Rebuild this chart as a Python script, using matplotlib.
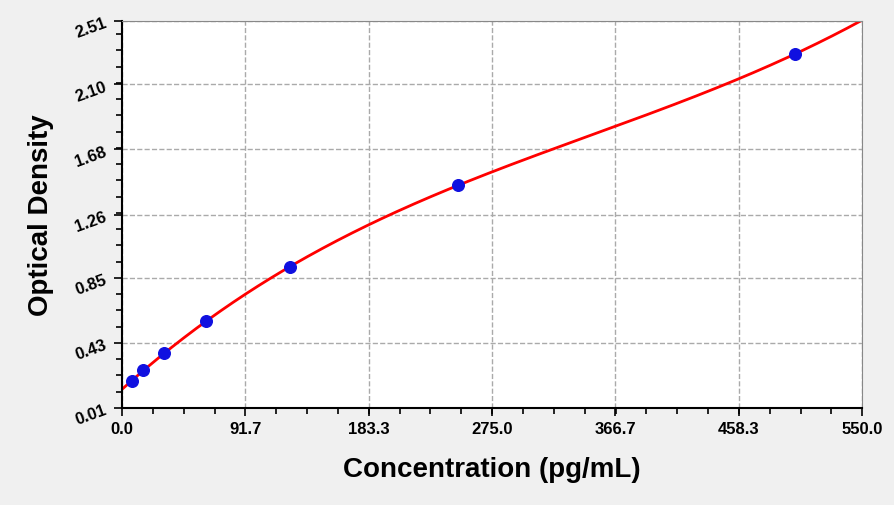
import numpy as np
import matplotlib
matplotlib.use("Agg")
import matplotlib.pyplot as plt
from matplotlib.ticker import AutoMinorLocator

plt.rcParams['font.family'] = ['Liberation Sans', 'DejaVu Sans']

conc = [7.8, 15.6, 31.25, 62.5, 125, 250, 500]
od = [0.184, 0.255, 0.365, 0.572, 0.921, 1.45, 2.296]
xticks = [0.0, 91.7, 183.3, 275.0, 366.7, 458.3, 550.0]
yticks = [0.01, 0.43, 0.85, 1.26, 1.68, 2.10, 2.51]

fig = plt.figure(figsize=(8.95, 5.06), dpi=100, facecolor="#f0f0f0")
ax = fig.add_axes([122/895, 1-409/506, 740/895, 387/506])
ax.set_facecolor("white")

coef = np.polyfit(conc, od, 3)
xs = np.linspace(0, 550, 300)
ax.plot(xs, np.polyval(coef, xs), color="#ff0000", lw=2, zorder=2)
ax.scatter(conc, od, s=70, color="#1010e0", zorder=3)

ax.set_xlim(0, 550)
ax.set_ylim(0.01, 2.51)
ax.set_xticks(xticks)
ax.set_xticklabels([f"{v:.1f}" for v in xticks], fontsize=12, fontweight="bold")
ax.set_yticks(yticks)
ax.set_yticklabels([f"{v:.2f}" for v in yticks], fontsize=12, fontweight="bold", rotation=20)
ax.xaxis.set_minor_locator(AutoMinorLocator(4))
ax.yaxis.set_minor_locator(AutoMinorLocator(4))
ax.tick_params(which="major", length=6, width=1.2, direction="out")
ax.tick_params(which="minor", length=4, width=1.2, direction="out")
ax.grid(True, which="major", ls="--", color="#aaaaaa", lw=1)
for s in ["top", "right"]:
    ax.spines[s].set_color("#888888")
for s in ["left", "bottom"]:
    ax.spines[s].set_linewidth(1.5)
ax.set_xlabel("Concentration (pg/mL)", fontsize=20, fontweight="bold", labelpad=14)
ax.set_ylabel("Optical Density", fontsize=20, fontweight="bold", labelpad=14)
fig.savefig("out.png", dpi=100, facecolor=fig.get_facecolor())
